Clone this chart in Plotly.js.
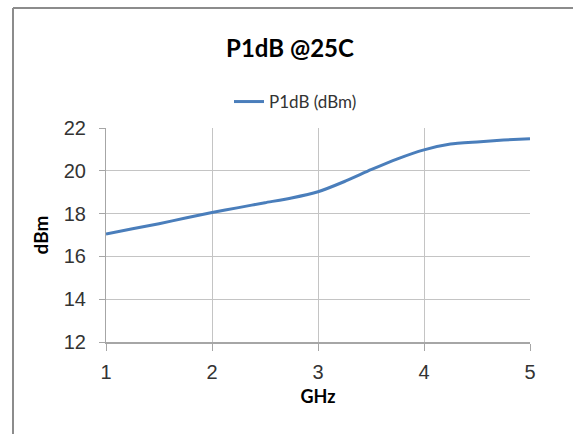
<!DOCTYPE html>
<html>
<head>
<meta charset="utf-8">
<script src="https://cdn.plot.ly/plotly-3.0.1.min.js"></script>
<style>
  html, body { margin: 0; padding: 0; background: #ffffff; }
  #chart { width: 573px; height: 434px; }
</style>
</head>
<body>
<div id="chart"></div>
<script>
// Frequency (GHz)
const freqGHz = [1.00, 1.25, 1.50, 1.75, 2.00, 2.25, 2.50, 2.75, 3.00, 3.25, 3.50, 3.75, 4.00, 4.25, 4.50, 4.75, 5.00];
// P1dB (dBm) at 25C
const p1dB = [17.05, 17.29, 17.53, 17.79, 18.05, 18.28, 18.51, 18.73, 19.02, 19.50, 20.05, 20.56, 20.98, 21.25, 21.35, 21.44, 21.50];

const seriesName = "P1dB (dBm)";
const chartTitle = "P1dB @25C";
const xTitle = "GHz";
const yTitle = "dBm";
const xTicks = [1, 2, 3, 4, 5];
const yTicks = [12, 14, 16, 18, 20, 22];

const W = 573, H = 434;
const M = { l: 106, r: 43, t: 128, b: 92 };
const pw = W - M.l - M.r, ph = H - M.t - M.b;
const px = v => (v - M.l) / pw;       // pixel x -> paper x
const py = v => (H - M.b - v) / ph;   // pixel y -> paper y

const trace = {
  x: freqGHz,
  y: p1dB,
  type: "scatter",
  mode: "lines",
  name: seriesName,
  line: { color: "#4a7ebb", width: 3, shape: "spline", smoothing: 0.5 }
};

const tickFont = { family: "Liberation Sans Narrow, Arial Narrow, sans-serif", size: 20, color: "#333333" };

const layout = {
  width: W,
  height: H,
  margin: M,
  paper_bgcolor: "#ffffff",
  plot_bgcolor: "#ffffff",
  title: {
    text: chartTitle,
    font: { family: "Lato, Calibri, sans-serif", size: 24, color: "#000000", weight: "bold" },
    xref: "container", x: 290 / W, xanchor: "center",
    yref: "container", y: 1 - 49 / H, yanchor: "middle"
  },
  showlegend: true,
  legend: {
    orientation: "h",
    x: px(229), xanchor: "left",
    y: py(102), yanchor: "middle",
    font: { family: "Lato, Calibri, sans-serif", size: 17, color: "#333333" },
    bgcolor: "rgba(0,0,0,0)",
    itemwidth: 30
  },
  xaxis: {
    range: [1, 5],
    tickvals: xTicks,
    ticktext: xTicks.map(String),
    showgrid: true,
    gridcolor: "#c4c4c4",
    gridwidth: 1,
    zeroline: false,
    showline: true,
    linecolor: "#a6a6a6",
    linewidth: 2,
    ticks: "outside",
    ticklen: 7,
    tickcolor: "#a6a6a6",
    tickwidth: 1,
    tickfont: tickFont,
    ticklabelstandoff: 4,
    fixedrange: true,
    title: {
      text: xTitle,
      font: { family: "Lato, Calibri, sans-serif", size: 18, color: "#000000", weight: "bold" },
      standoff: 8
    }
  },
  yaxis: {
    range: [12, 22],
    tickvals: yTicks,
    ticktext: yTicks.map(String),
    showgrid: true,
    gridcolor: "#c4c4c4",
    gridwidth: 1,
    zeroline: false,
    showline: true,
    linecolor: "#a6a6a6",
    linewidth: 1,
    ticks: "outside",
    ticklen: 6,
    tickcolor: "#a6a6a6",
    tickwidth: 1,
    tickfont: tickFont,
    ticklabelstandoff: 9,
    fixedrange: true,
    title: {
      text: yTitle,
      font: { family: "Lato, Calibri, sans-serif", size: 19, color: "#000000", weight: "bold" },
      standoff: 10
    }
  },
  shapes: [
    // chart-area border (left and top edges visible in the cropped picture)
    { type: "line", xref: "paper", yref: "paper", x0: px(13), x1: px(13), y0: py(8), y1: py(440),
      line: { color: "#8c8c8c", width: 2 } },
    { type: "line", xref: "paper", yref: "paper", x0: px(13), x1: px(580), y0: py(8), y1: py(8),
      line: { color: "#8c8c8c", width: 2 } }
  ]
};

Plotly.newPlot("chart", [trace], layout, { displayModeBar: false, staticPlot: true });
</script>
</body>
</html>
